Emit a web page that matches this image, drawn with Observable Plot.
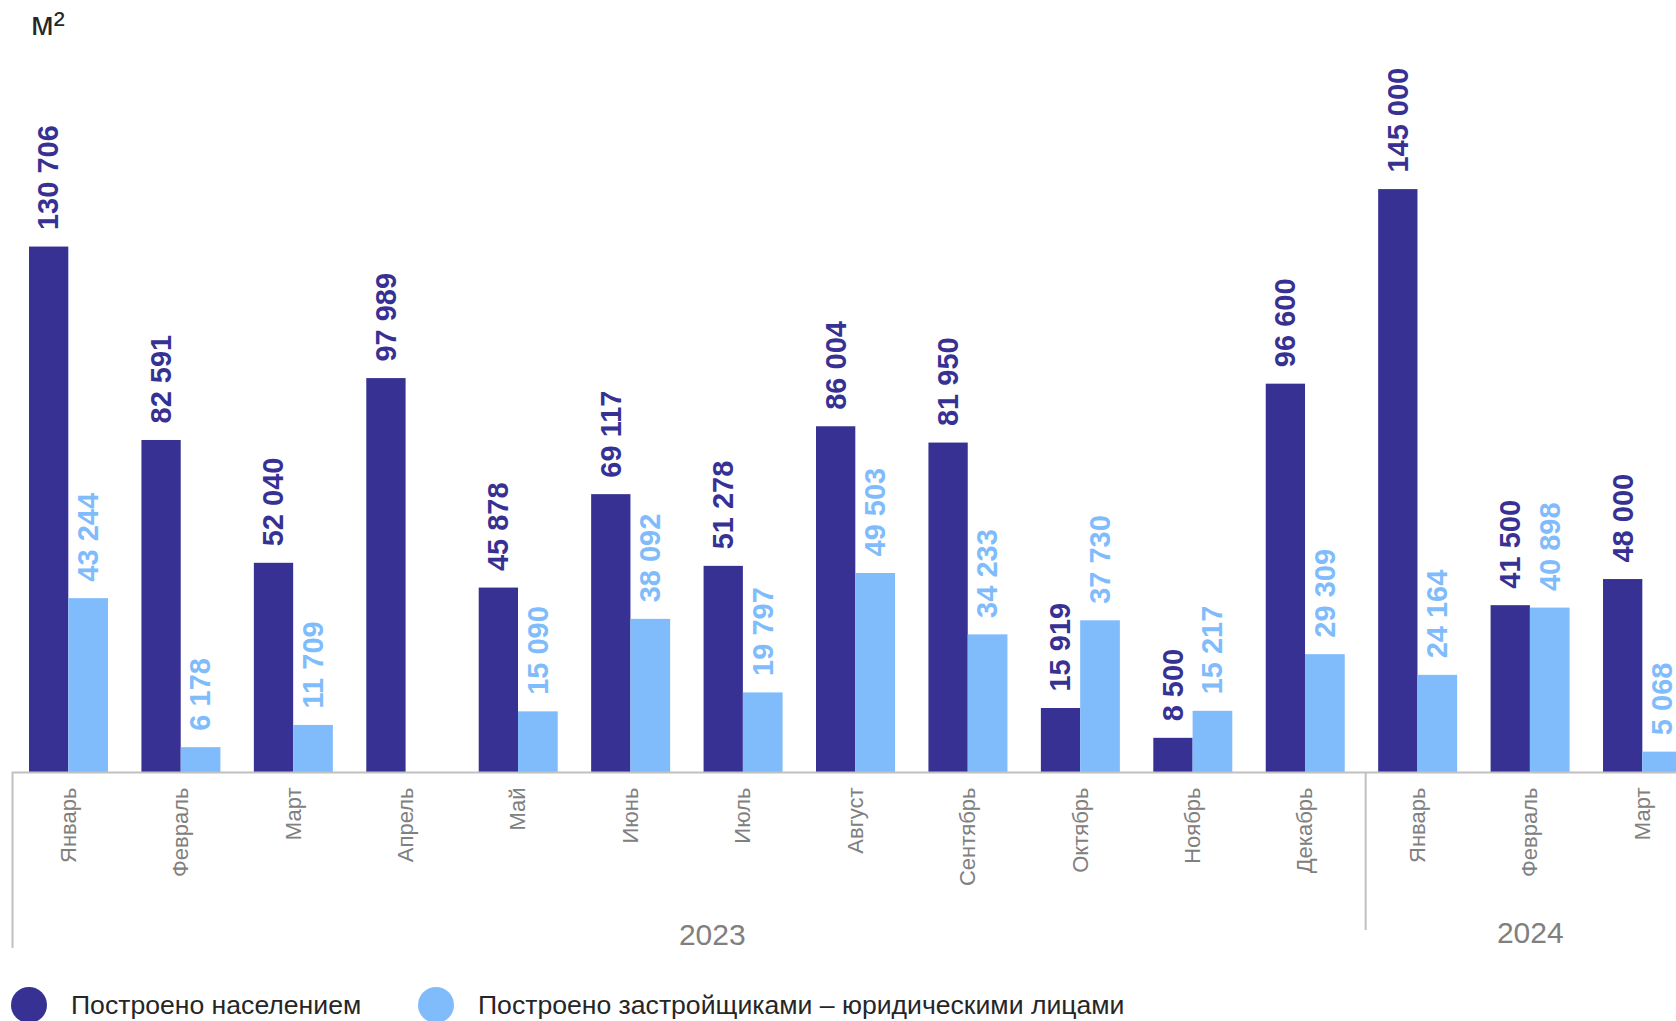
<!DOCTYPE html>
<html>
<head>
<meta charset="utf-8">
<script src="https://cdn.jsdelivr.net/npm/d3@7"></script>
<script src="https://cdn.jsdelivr.net/npm/@observablehq/plot@0.6"></script>
<style>
  html, body { margin: 0; padding: 0; background: #fff; overflow: hidden; }
  body { width: 1676px; height: 1021px; position: relative; font-family: "Liberation Sans", Arial, sans-serif; }
  #unit { position: absolute; left: 31px; top: 7px; font-size: 33px; line-height: 33px; color: #262626; }
  .leg { position: absolute; top: 987px; display: flex; align-items: center; height: 36px; }
  .leg .dot { width: 36px; height: 36px; border-radius: 50%; margin-right: 24px; }
  .leg .lbl { font-size: 26.6px; line-height: 36px; color: #262626; white-space: nowrap; }
</style>
</head>
<body>
<div id="chart"></div>
<div id="unit">м²</div>
<div class="leg" style="left:11px"><div class="dot" style="background:#373194"></div><div class="lbl">Построено населением</div></div>
<div class="leg" style="left:418px"><div class="dot" style="background:#80bcfc"></div><div class="lbl">Построено застройщиками – юридическими лицами</div></div>
<script>
// ---- data ----
const keys = ["2023-01","2023-02","2023-03","2023-04","2023-05","2023-06","2023-07","2023-08","2023-09","2023-10","2023-11","2023-12","2024-01","2024-02","2024-03"];
const monthNames = ["Январь","Февраль","Март","Апрель","Май","Июнь","Июль","Август","Сентябрь","Октябрь","Ноябрь","Декабрь","Январь","Февраль","Март"];
const population = [130706, 82591, 52040, 97989, 45878, 69117, 51278, 86004, 81950, 15919, 8500, 96600, 145000, 41500, 48000];
const developers = [43244, 6178, 11709, null, 15090, 38092, 19797, 49503, 34233, 37730, 15217, 29309, 24164, 40898, 5068];
const yearStarts = ["2023-01", "2024-01"];
const yearLabels = ["2023", "2024"];
const seriesNames = ["Построено населением", "Построено застройщиками – юридическими лицами"];

// ---- table ----
const rows = keys.map((k, i) => ({key: k, month: monthNames[i], pop: population[i], dev: developers[i]}));
const devRows = rows.filter(d => d.dev != null);

const DARK = "#373194", LIGHT = "#80bcfc", GRAY = "#c0c0c0", TXT = "#808080";
const fmt = d3.formatLocale({decimal: ",", thousands: "\u00a0", grouping: [3], currency: ["", ""]}).format(",d");

const step = 112.43;          // band step in px
const half = step / 2;
const x0 = 12;

const chart = Plot.plot({
  width: 1676,
  height: 980,
  marginTop: 0,
  marginBottom: 32,
  marginLeft: 12,
  marginRight: 0,
  style: {fontFamily: "'Liberation Sans', Arial, sans-serif", background: "#fff"},
  x: {type: "band", domain: keys, range: [x0, x0 + step * keys.length], padding: 0, round: false, axis: null},
  y: {domain: [0, 190000], range: [772, 772 - 190 * 4.02], axis: null},
  marks: [
    Plot.barY(rows, {x: "key", y: "pop", fill: DARK, insetLeft: 17, insetRight: step - 17 - 39.3}),
    Plot.barY(devRows, {x: "key", y: "dev", fill: LIGHT, insetLeft: 17 + 39.3, insetRight: step - 17 - 79}),
    Plot.ruleY([0], {stroke: GRAY, strokeWidth: 2.2}),
    // year group dividers
    Plot.ruleX([yearStarts[0]], {x: d => d, dx: -half, stroke: GRAY, strokeWidth: 2, insetTop: 772}),
    Plot.ruleX([yearStarts[1]], {x: d => d, dx: -half + 4, stroke: GRAY, strokeWidth: 2, insetTop: 772, insetBottom: 18}),
    // month tick labels
    Plot.text(rows, {x: "key", y: () => 0, text: "month", dy: 15, rotate: -90, textAnchor: "end", lineAnchor: "middle", fontSize: 22, fill: TXT}),
    // year labels
    Plot.text([yearLabels[0]], {x: () => "2023-07", y: () => 0, text: d => d, dx: -31, dy: 172, lineAnchor: "bottom", fontSize: 30, fill: TXT}),
    Plot.text([yearLabels[1]], {x: () => "2024-02", y: () => 0, text: d => d, dx: 0, dy: 170, lineAnchor: "bottom", fontSize: 30, fill: TXT}),
    // value labels
    Plot.text(rows, {x: "key", y: "pop", text: d => fmt(d.pop), dx: -19.5, dy: -17, rotate: -90, textAnchor: "start", lineAnchor: "middle", fontSize: 29, fontWeight: "bold", fill: DARK}),
    Plot.text(devRows, {x: "key", y: "dev", text: d => fmt(d.dev), dx: 20, dy: -17, rotate: -90, textAnchor: "start", lineAnchor: "middle", fontSize: 29, fontWeight: "bold", fill: LIGHT})
  ]
});
document.getElementById("chart").appendChild(chart);
</script>
</body>
</html>
